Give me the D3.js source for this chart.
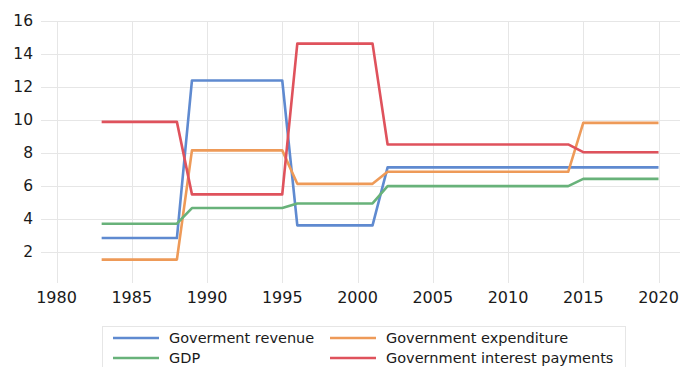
<!DOCTYPE html>
<html><head><meta charset="utf-8">
<script src="https://cdn.jsdelivr.net/npm/d3@7"></script>
<style>body{margin:0;background:#fff}svg{display:block}</style>
</head><body>
<svg id="c" width="682" height="367"></svg>
<script>
const years = [1983,1984,1985,1986,1987,1988,1989,1990,1991,1992,1993,1994,1995,1996,1997,1998,1999,2000,2001,2002,2003,2004,2005,2006,2007,2008,2009,2010,2011,2012,2013,2014,2015,2016,2017,2018,2019,2020];
const revenue = [2.83,2.83,2.83,2.83,2.83,2.83,12.39,12.39,12.39,12.39,12.39,12.39,12.39,3.6,3.6,3.6,3.6,3.6,3.6,7.12,7.12,7.12,7.12,7.12,7.12,7.12,7.12,7.12,7.12,7.12,7.12,7.12,7.12,7.12,7.12,7.12,7.12,7.12];
const expenditure = [1.52,1.52,1.52,1.52,1.52,1.52,8.15,8.15,8.15,8.15,8.15,8.15,8.15,6.12,6.12,6.12,6.12,6.12,6.12,6.85,6.85,6.85,6.85,6.85,6.85,6.85,6.85,6.85,6.85,6.85,6.85,6.85,9.82,9.82,9.82,9.82,9.82,9.82];
const gdp = [3.7,3.7,3.7,3.7,3.7,3.7,4.65,4.65,4.65,4.65,4.65,4.65,4.65,4.93,4.93,4.93,4.93,4.93,4.93,5.98,5.98,5.98,5.98,5.98,5.98,5.98,5.98,5.98,5.98,5.98,5.98,5.98,6.42,6.42,6.42,6.42,6.42,6.42];
const interest = [9.88,9.88,9.88,9.88,9.88,9.88,5.48,5.48,5.48,5.48,5.48,5.48,5.48,14.63,14.63,14.63,14.63,14.63,14.63,8.51,8.51,8.51,8.51,8.51,8.51,8.51,8.51,8.51,8.51,8.51,8.51,8.51,8.04,8.04,8.04,8.04,8.04,8.04];
const seriesNames = ["Goverment revenue","Government expenditure","GDP","Government interest payments"];
const seriesColors = ["#5f8ad0","#ee9a58","#68b27a","#df525c"];
const xTicks = [1980,1985,1990,1995,2000,2005,2010,2015,2020];
const yTicks = [2,4,6,8,10,12,14,16];

const svg = d3.select("#c");
const x = d3.scaleLinear().domain([1980,2020]).range([56.5,658.5]);
const y = d3.scaleLinear().domain([0,16]).range([284.7,21]);
const pLeft = 41, pRight = 680, pTop = 21, pBottom = 283;

svg.append("g").selectAll("line").data(yTicks).join("line")
  .attr("x1",pLeft).attr("x2",pRight).attr("y1",d=>Math.round(y(d))+0.5).attr("y2",d=>Math.round(y(d))+0.5)
  .attr("stroke","#e6e6e6").attr("stroke-width",1);
svg.append("g").selectAll("line").data(xTicks).join("line")
  .attr("x1",d=>Math.round(x(d))+0.5).attr("x2",d=>Math.round(x(d))+0.5).attr("y1",pTop).attr("y2",pBottom)
  .attr("stroke","#e6e6e6").attr("stroke-width",1);

const ff = "'DejaVu Sans', Verdana, sans-serif";
svg.append("g").selectAll("text").data(yTicks).join("text")
  .attr("x",33).attr("y",d=>y(d)).attr("dy","0.35em").attr("text-anchor","end")
  .attr("font-family",ff).attr("font-size",15.5).attr("fill","#1a1a1a").text(d=>d);
svg.append("g").selectAll("text").data(xTicks).join("text")
  .attr("x",d=>x(d)).attr("y",297).attr("dy","0.35em").attr("text-anchor","middle")
  .attr("font-family",ff).attr("font-size",16).attr("fill","#1a1a1a").text(d=>d);

const data = [revenue, expenditure, gdp, interest];
const line = d3.line().x((d,i)=>x(years[i])).y(d=>y(d));
data.forEach((s,k)=>{
  svg.append("path").datum(s).attr("d",line).attr("fill","none")
    .attr("stroke",seriesColors[k]).attr("stroke-width",2.6).attr("stroke-linejoin","round");
});

// legend
svg.append("rect").attr("x",102.5).attr("y",326.5).attr("width",523).attr("height",50)
  .attr("fill","none").attr("stroke","#e6e6e6");
const lx = [113, 330], ly = [338, 358];
seriesNames.forEach((n,k)=>{
  const cx = lx[k%2], cy = ly[Math.floor(k/2)];
  svg.append("line").attr("x1",cx).attr("x2",cx+46).attr("y1",cy).attr("y2",cy)
    .attr("stroke",seriesColors[k]).attr("stroke-width",2.6);
  svg.append("text").attr("x",cx+56).attr("y",cy).attr("dy","0.32em")
    .attr("font-family",ff).attr("font-size",14.5).attr("fill","#1a1a1a").text(n);
});
</script>
</body></html>
